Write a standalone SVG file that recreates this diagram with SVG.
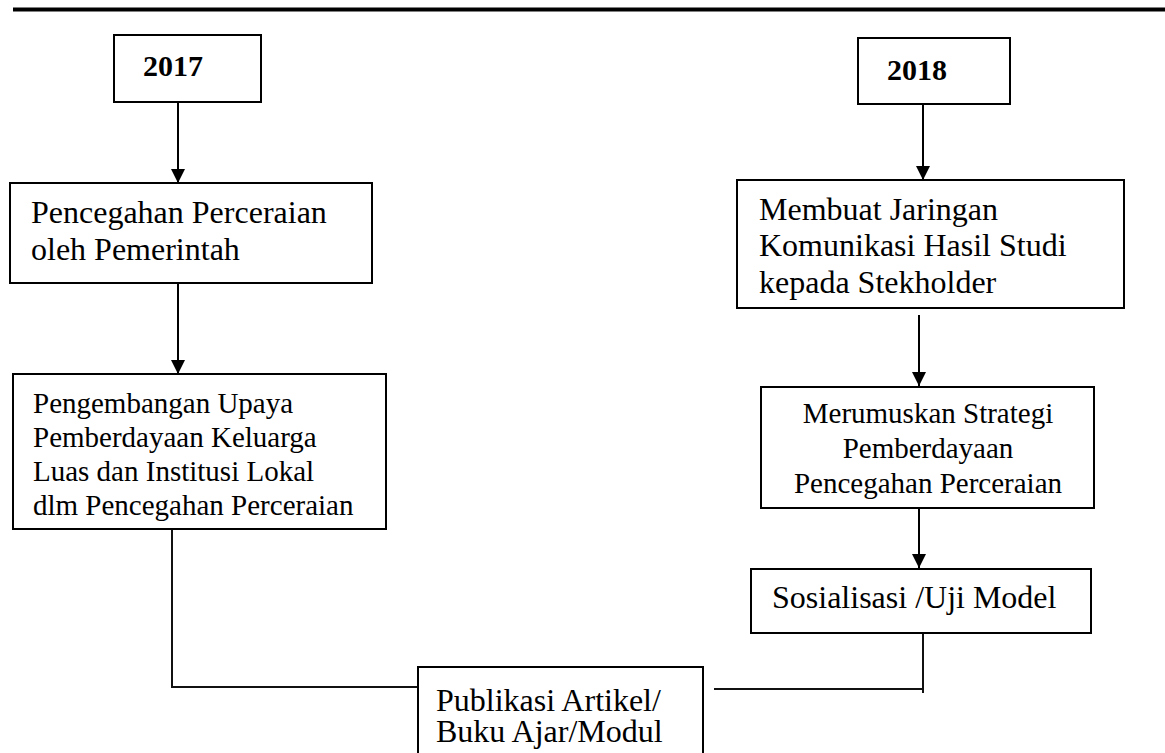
<svg xmlns="http://www.w3.org/2000/svg" width="1165" height="753" viewBox="0 0 1165 753">
  <style>
    .box { fill: #ffffff; stroke: #000000; stroke-width: 2; }
    .t { font-family: "Liberation Serif", "Times New Roman", serif; fill: #000000; }
    .t32 { font-size: 32px; }
    .t29 { font-size: 29px; }
    .yr { font-size: 30px; font-weight: bold; }
    .arrow { fill: none; stroke: #000000; stroke-width: 2; marker-end: url(#head); }
    .link { fill: none; stroke: #111111; stroke-width: 2; }
  </style>
  <defs>
    <marker id="head" markerUnits="userSpaceOnUse" viewBox="0 0 14 16" refX="14" refY="7" markerWidth="14" markerHeight="16" orient="auto">
      <path d="M0,0 L14,7 L0,14 Z" fill="#000000"/>
    </marker>
  </defs>

  <rect width="1165" height="753" fill="#ffffff"/>

  <!-- header rule -->
  <line x1="13" y1="9.5" x2="1165" y2="9.5" stroke="#000000" stroke-width="4"/>

  <!-- connectors -->
  <g id="connectors">
    <line class="arrow" x1="178" y1="102" x2="178" y2="183"/>
    <line class="arrow" x1="178" y1="283" x2="178" y2="374"/>
    <line class="arrow" x1="923" y1="104" x2="923" y2="180"/>
    <line class="arrow" x1="919" y1="315" x2="919" y2="386"/>
    <line class="arrow" x1="919" y1="503" x2="919" y2="568"/>
    <polyline class="link" points="172,529 172,687 418,687"/>
    <polyline class="link" points="714,689 923,689"/>
    <line class="link" x1="923" y1="633" x2="923" y2="693"/>
  </g>

  <!-- left column -->
  <g id="year2017">
    <rect class="box" x="114" y="35" width="147" height="67"/>
    <text class="t yr" x="143" y="76">2017</text>
  </g>

  <g id="pencegahan">
    <rect class="box" x="10" y="183" width="362" height="100"/>
    <text class="t t32" x="31" y="223">Pencegahan Perceraian</text>
    <text class="t t32" x="31" y="260">oleh Pemerintah</text>
  </g>

  <g id="pengembangan">
    <rect class="box" x="13" y="374" width="373" height="155"/>
    <text class="t t29" x="33" y="413">Pengembangan Upaya</text>
    <text class="t t29" x="33" y="447">Pemberdayaan Keluarga</text>
    <text class="t t29" x="33" y="481">Luas dan Institusi Lokal</text>
    <text class="t t29" x="33" y="515">dlm Pencegahan Perceraian</text>
  </g>

  <!-- right column -->
  <g id="year2018">
    <rect class="box" x="858" y="38" width="152" height="66"/>
    <text class="t yr" x="887" y="80">2018</text>
  </g>

  <g id="jaringan">
    <rect class="box" x="737" y="180" width="387" height="128"/>
    <text class="t t32" x="759" y="220">Membuat Jaringan</text>
    <text class="t t32" x="759" y="256">Komunikasi Hasil Studi</text>
    <text class="t t32" x="759" y="293">kepada Stekholder</text>
  </g>

  <g id="strategi">
    <rect class="box" x="761" y="387" width="333" height="121"/>
    <text class="t t29" x="928" y="423" text-anchor="middle">Merumuskan Strategi</text>
    <text class="t t29" x="928" y="458" text-anchor="middle">Pemberdayaan</text>
    <text class="t t29" x="928" y="493" text-anchor="middle">Pencegahan Perceraian</text>
  </g>

  <g id="sosialisasi">
    <rect class="box" x="751" y="569" width="340" height="64"/>
    <text class="t t32" x="772" y="608">Sosialisasi /Uji Model</text>
  </g>

  <!-- bottom output -->
  <g id="publikasi">
    <rect class="box" x="418" y="667" width="285" height="100"/>
    <text class="t t32" x="436" y="711">Publikasi Artikel/</text>
    <text class="t t32" x="436" y="742">Buku Ajar/Modul</text>
  </g>
</svg>
